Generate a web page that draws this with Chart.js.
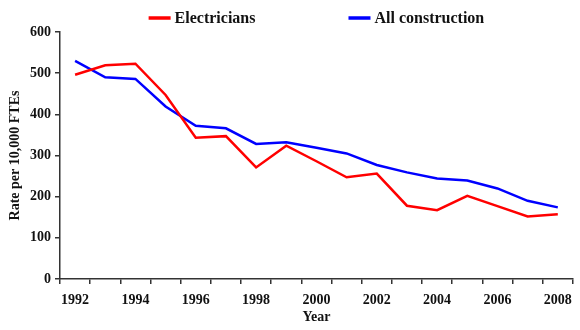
<!DOCTYPE html>
<html>
<head>
<meta charset="utf-8">
<title>Electricians injury rate</title>
<script src="https://cdn.jsdelivr.net/npm/chart.js"></script>
<style>
  body { margin: 0; background: #fff; }
  #wrap { width: 580px; height: 330px; }
</style>
</head>
<body>
<div id="wrap"><canvas id="myChart"></canvas></div>
<script>
var years = ['1992', '1993', '1994', '1995', '1996', '1997', '1998', '1999', '2000',
             '2001', '2002', '2003', '2004', '2005', '2006', '2007', '2008'];
var electricians = [496, 519, 523, 447, 343, 347, 271, 324, 286, 247, 256, 178, 167, 202, 177, 152, 157];
var allConstruction = [530, 490, 486, 419, 372, 366, 328, 332, 319, 305, 277, 259, 244, 239, 220, 190, 174];
var yMin = 0, yMax = 600, yStep = 100;

var serif = '"Liberation Serif", "Times New Roman", serif';
var axisColor = '#333';

// legend: short line + bold label, centred over the plot
var lineLegend = {
    id: 'lineLegend',
    afterDraw: function(chart) {
        var ctx = chart.ctx;
        var area = chart.chartArea;
        var lineW = 22, gap = 4, itemGap = 93, y = 18;
        ctx.save();
        ctx.font = 'bold 16px ' + serif;
        var items = chart.data.datasets.map(function(ds) {
            return { text: ds.label, color: ds.borderColor, w: ctx.measureText(ds.label).width };
        });
        var total = 0;
        items.forEach(function(it, i) {
            total += lineW + gap + it.w + (i > 0 ? itemGap : 0);
        });
        var x = (area.left + area.right) / 2 - total / 2;
        items.forEach(function(it) {
            ctx.strokeStyle = it.color;
            ctx.lineWidth = 3.5;
            ctx.beginPath();
            ctx.moveTo(x, y);
            ctx.lineTo(x + lineW, y);
            ctx.stroke();
            ctx.fillStyle = '#111';
            ctx.textBaseline = 'middle';
            ctx.fillText(it.text, x + lineW + gap, y + 1);
            x += lineW + gap + it.w + itemGap;
        });
        ctx.restore();
    }
};

var ctx = document.getElementById('myChart');
var myChart = new Chart(ctx, {
    type: 'line',
    data: {
        labels: years,
        datasets: [{
            label: 'Electricians',
            data: electricians,
            borderColor: '#ff0000',
            backgroundColor: '#ff0000',
            borderWidth: 2.5,
            pointRadius: 0,
            tension: 0,
            clip: false
        }, {
            label: 'All construction',
            data: allConstruction,
            borderColor: '#0000ff',
            backgroundColor: '#0000ff',
            borderWidth: 2.5,
            pointRadius: 0,
            tension: 0,
            clip: false
        }]
    },
    options: {
        responsive: true,
        maintainAspectRatio: false,
        animation: false,
        devicePixelRatio: 1,
        layout: { padding: { top: 32, right: 7, left: 0, bottom: 0 } },
        plugins: {
            legend: { display: false },
            tooltip: { enabled: false }
        },
        scales: {
            x: {
                type: 'category',
                offset: true,
                grid: {
                    display: true,
                    drawOnChartArea: false,
                    drawTicks: true,
                    tickLength: 5,
                    offset: true,
                    color: axisColor,
                    lineWidth: 1.5
                },
                border: { display: true, color: axisColor, width: 1.5 },
                ticks: {
                    autoSkip: false,
                    maxRotation: 0,
                    padding: 8,
                    color: '#111',
                    font: { family: serif, size: 14, weight: 'bold' },
                    callback: function(value, index) {
                        return index % 2 === 0 ? this.getLabelForValue(value) : '';
                    }
                },
                title: {
                    display: true,
                    text: 'Year',
                    color: '#111',
                    font: { family: serif, size: 14, weight: 'bold' },
                    padding: { top: 0, bottom: 4 }
                },
                afterFit: function(scale) { scale.height = 51; }
            },
            y: {
                min: yMin,
                max: yMax,
                grid: {
                    display: true,
                    drawOnChartArea: false,
                    drawTicks: true,
                    tickLength: 5,
                    color: axisColor,
                    lineWidth: 1.5
                },
                border: { display: true, color: axisColor, width: 1.5 },
                ticks: {
                    stepSize: yStep,
                    padding: 4,
                    color: '#111',
                    font: { family: serif, size: 14, weight: 'bold' }
                },
                title: {
                    display: true,
                    text: 'Rate per 10,000 FTEs',
                    color: '#111',
                    font: { family: serif, size: 14, weight: 'bold' },
                    padding: { top: 7, bottom: 0 }
                },
                afterFit: function(scale) { scale.width = 60; }
            }
        }
    },
    plugins: [lineLegend]
});
</script>
</body>
</html>
